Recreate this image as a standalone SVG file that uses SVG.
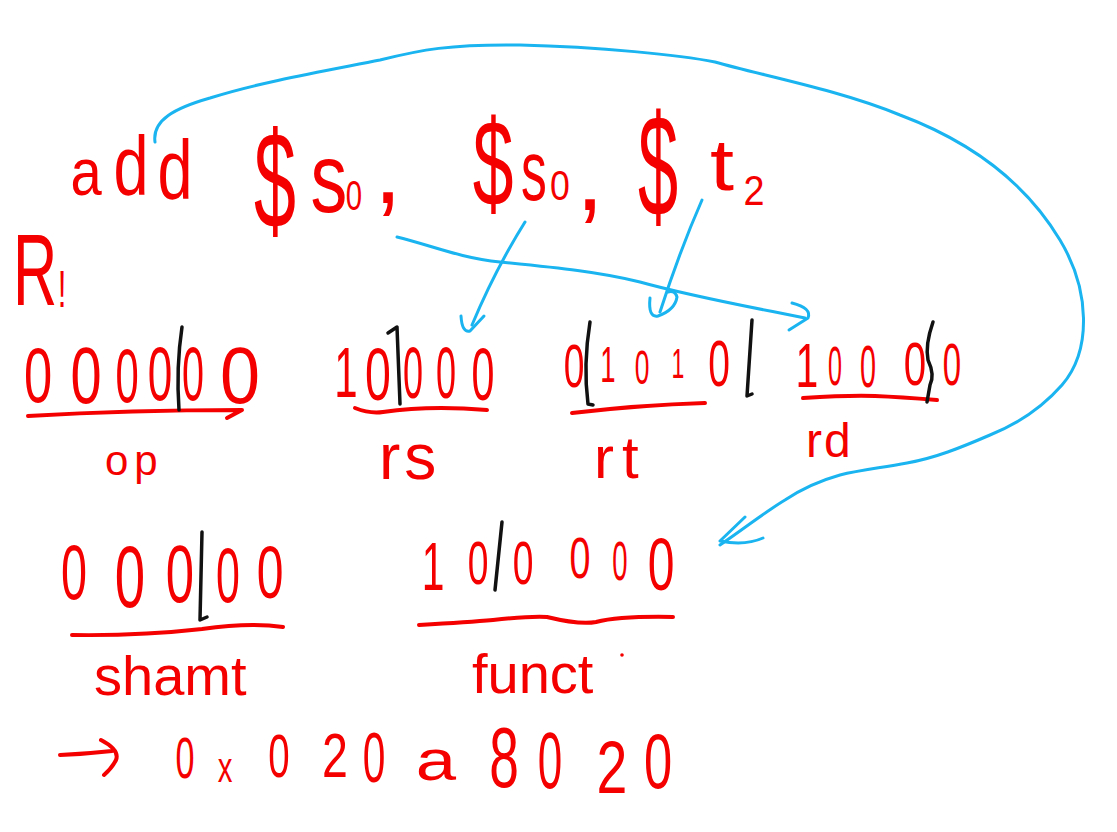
<svg xmlns="http://www.w3.org/2000/svg" width="1117" height="832" viewBox="0 0 1117 832">
<style>
.t{font-family:"Liberation Sans",Arial,sans-serif;fill:#f40000;text-anchor:middle}
.l{font-family:"Liberation Sans",Arial,sans-serif;fill:#f40000}
.u{fill:none;stroke:#f40000;stroke-width:4;stroke-linecap:round;stroke-linejoin:round}
.b{fill:none;stroke:#111;stroke-width:3.5;stroke-linecap:round;stroke-linejoin:round}
.c{fill:none;stroke:#1ab4f0;stroke-width:3;stroke-linecap:round;stroke-linejoin:round}
</style>
<rect width="1117" height="832" fill="#fff"/>

<g id="instruction">
<text class="t" font-size="66" transform="translate(86,195) scale(0.85,1)">a</text>
<text class="t" font-size="84" transform="translate(131,195) scale(0.75,1)">d</text>
<text class="t" font-size="84" transform="translate(175,199) scale(0.75,1)">d</text>
<text class="t" font-size="137" transform="translate(275,228) scale(0.55,1)">$</text>
<text class="t" font-size="98" transform="translate(329,212) scale(0.75,1)">s</text>
<text class="t" font-size="42" transform="translate(354,210) scale(0.7,1)">0</text>
<text class="t" font-size="100" transform="translate(388,203)">,</text>
<text class="t" font-size="122" transform="translate(493,206) scale(0.6,1)">$</text>
<text class="t" font-size="86" transform="translate(534,200) scale(0.6,1)">s</text>
<text class="t" font-size="42" transform="translate(560,200) scale(0.85,1)">0</text>
<text class="t" font-size="100" transform="translate(590,210)">,</text>
<text class="t" font-size="144" transform="translate(658,216) scale(0.5,1)">$</text>
<text class="t" font-size="72" transform="translate(722,190) scale(1.2,1)">t</text>
<text class="t" font-size="42" transform="translate(754,205) scale(0.9,1)">2</text>
</g>

<g id="r-label">
<text class="t" font-size="102" transform="translate(35,305) scale(0.6,1)">R</text>
<text class="t" font-size="52" transform="translate(62,307) scale(0.6,1)">!</text>
</g>

<g id="op">
<text class="t" font-size="78" transform="translate(38,402) scale(0.65,1)">0</text>
<text class="t" font-size="80" transform="translate(86,403) scale(0.7,1)">0</text>
<text class="t" font-size="76" transform="translate(127,402) scale(0.55,1)">0</text>
<text class="t" font-size="76" transform="translate(160,400) scale(0.58,1)">0</text>
<text class="t" font-size="76" transform="translate(193,400) scale(0.52,1)">0</text>
<text class="t" font-size="80" transform="translate(240,403) scale(0.9,1)">0</text>
<path class="u" d="M28,416 Q130,410 242,410 L227,418"/>
<path class="b" d="M182,327 Q176,367 179,410"/>
<text class="l" font-size="42" x="105" y="475" letter-spacing="6">op</text>
</g>

<g id="rs">
<text class="t" font-size="70" transform="translate(346,397) scale(0.6,1)">1</text>
<text class="t" font-size="75" transform="translate(378,400) scale(0.62,1)">0</text>
<text class="t" font-size="72" transform="translate(413,398) scale(0.5,1)">0</text>
<text class="t" font-size="72" transform="translate(446,398) scale(0.5,1)">0</text>
<text class="t" font-size="75" transform="translate(483,400) scale(0.55,1)">0</text>
<path class="u" d="M355,408 Q370,414 383,412 Q430,405 487,410"/>
<path class="b" d="M388,333 L397,327 L400,404"/>
<text class="l" font-size="64" x="379" y="479" letter-spacing="4">rs</text>
</g>

<g id="rt">
<text class="t" font-size="62" transform="translate(574,387) scale(0.6,1)">0</text>
<text class="t" font-size="50" transform="translate(608,382) scale(0.55,1)">1</text>
<text class="t" font-size="48" transform="translate(642,384) scale(0.55,1)">0</text>
<text class="t" font-size="42" transform="translate(678,378) scale(0.55,1)">1</text>
<text class="t" font-size="65" transform="translate(719,386) scale(0.6,1)">0</text>
<path class="u" d="M572,413 Q640,405 705,403"/>
<path class="b" d="M590,322 Q583,365 588,404 L593,405"/>
<path class="b" d="M752,320 L747,396 L752,394"/>
<text class="l" font-size="60" x="594" y="478" letter-spacing="8">rt</text>
</g>

<g id="rd">
<text class="t" font-size="63" transform="translate(807,387) scale(0.65,1)">1</text>
<text class="t" font-size="56" transform="translate(835,385) scale(0.45,1)">0</text>
<text class="t" font-size="60" transform="translate(868,387) scale(0.48,1)">0</text>
<text class="t" font-size="62" transform="translate(915,385) scale(0.65,1)">0</text>
<text class="t" font-size="60" transform="translate(952,385) scale(0.55,1)">0</text>
<path class="u" d="M803,398 Q850,395 875,396 T937,400"/>
<path class="b" d="M933,322 Q925,345 928,360 Q935,375 930,385 L927,402"/>
<text class="l" font-size="48" x="806" y="457" letter-spacing="2">rd</text>
</g>

<g id="shamt">
<text class="t" font-size="78" transform="translate(74,599) scale(0.6,1)">0</text>
<text class="t" font-size="88" transform="translate(130,607) scale(0.62,1)">0</text>
<text class="t" font-size="82" transform="translate(180,602) scale(0.62,1)">0</text>
<text class="t" font-size="78" transform="translate(228,602) scale(0.55,1)">0</text>
<text class="t" font-size="74" transform="translate(270,598) scale(0.65,1)">0</text>
<path class="u" d="M72,635 Q140,636 202,629 Q250,622 283,627"/>
<path class="b" d="M202,532 L200,620 L207,617"/>
<text class="l" font-size="56" x="94" y="695">shamt</text>
</g>

<g id="funct">
<text class="t" font-size="68" transform="translate(433,590) scale(0.6,1)">1</text>
<text class="t" font-size="62" transform="translate(478,584) scale(0.6,1)">0</text>
<text class="t" font-size="62" transform="translate(523,584) scale(0.6,1)">0</text>
<text class="t" font-size="58" transform="translate(580,578) scale(0.65,1)">0</text>
<text class="t" font-size="55" transform="translate(620,580) scale(0.5,1)">0</text>
<text class="t" font-size="74" transform="translate(661,590) scale(0.65,1)">0</text>
<path class="u" d="M419,625 Q470,622 493,620 Q530,616 547,617 Q580,625 596,622 Q620,616 673,617"/>
<path class="b" d="M502,522 L495,590"/>
<text class="l" font-size="56" x="472" y="693">funct</text>
<circle cx="622" cy="655" r="1.8" fill="#f40000"/>
</g>

<g id="hex">
<path class="u" d="M60,755 Q85,754 112,751 M101,740 Q120,750 116,760 Q112,768 104,775"/>
<text class="t" font-size="57" transform="translate(185,778) scale(0.6,1)">0</text>
<text class="t" font-size="42" transform="translate(225,782) scale(0.7,1)">x</text>
<text class="t" font-size="62" transform="translate(279,777) scale(0.62,1)">0</text>
<text class="t" font-size="62" transform="translate(335,777) scale(0.75,1)">2</text>
<text class="t" font-size="70" transform="translate(374,782) scale(0.58,1)">0</text>
<text class="t" font-size="58" transform="translate(436,780) scale(1.25,1)">a</text>
<text class="t" font-size="86" transform="translate(504,787) scale(0.62,1)">8</text>
<text class="t" font-size="80" transform="translate(550,788) scale(0.55,1)">0</text>
<text class="t" font-size="74" transform="translate(612,793) scale(0.75,1)">2</text>
<text class="t" font-size="78" transform="translate(658,788) scale(0.65,1)">0</text>
</g>

<g id="connectors">
<path class="c" d="M155,142 C152,120 175,108 210,98 C260,82 330,70 380,60 C420,50 450,44 520,45 C600,47 680,55 715,62 C760,75 840,90 900,115 C980,145 1030,190 1060,240 C1090,290 1092,350 1062,385 C1040,410 1015,425 990,435 C960,448 935,458 907,463 C880,468 860,470 840,475 C815,482 800,490 785,500 C765,512 745,528 720,545"/>
<path class="c" d="M745,517 L720,541 Q745,546 763,538"/>
<path class="c" d="M397,237 C430,245 460,258 500,262 C560,268 600,272 640,282 C690,296 740,305 805,318"/>
<path class="c" d="M792,303 Q812,308 808,318 L789,330"/>
<path class="c" d="M525,222 Q495,270 472,325"/>
<path class="c" d="M461,316 Q462,333 470,331 L484,316"/>
<path class="c" d="M702,200 Q680,250 660,312"/>
<path class="c" d="M650,298 Q648,318 658,316 Q675,310 677,297 Q675,290 668,292"/>
</g>
</svg>
